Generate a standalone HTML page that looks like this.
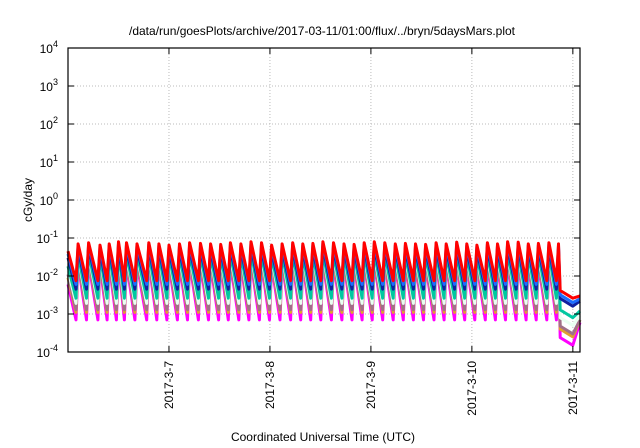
<!DOCTYPE html>
<html><head><meta charset="utf-8"><style>
html,body{margin:0;padding:0;background:#fff;}
svg{display:block;font-family:"Liberation Sans",sans-serif;}
</style></head><body>
<svg id="chart" width="640" height="448" viewBox="0 0 640 448" xmlns="http://www.w3.org/2000/svg">
<text x="322" y="35" font-size="12" text-anchor="middle">/data/run/goesPlots/archive/2017-03-11/01:00/flux/../bryn/5daysMars.plot</text>
<g id="grid"></g>
<g id="series"></g>
<g id="axes"></g>
<text transform="translate(32,200) rotate(-90)" font-size="12" text-anchor="middle">cGy/day</text>
<text x="323" y="441" font-size="12" text-anchor="middle">Coordinated Universal Time (UTC)</text>
</svg>
<script>
// ---- data ----
const xTickLabels = ["2017-3-7","2017-3-8","2017-3-9","2017-3-10","2017-3-11"];
const xTickHours = [24,48,72,96,120];
const yTickExps = [-4,-3,-2,-1,0,1,2,3,4];
const peakHours = [2.4,4.9,7.6,9.8,12.0,13.9,16.4,19.2,21.6,24.0,26.5,28.9,31.5,33.9,36.3,38.6,41.1,43.5,46.0,48.4,50.9,53.4,55.8,58.2,60.6,63.1,65.6,68.0,70.4,72.8,75.3,77.8,80.2,82.6,85.0,87.5,89.9,92.4,94.8,97.2,99.7,102.1,104.5,107.0,109.4,111.8,114.3,116.6];
const redPeak = [0.07,0.075,0.065,0.07,0.08,0.075,0.07,0.075,0.07,0.065,0.07,0.075,0.072,0.07,0.068,0.075,0.07,0.08,0.075,0.065,0.07,0.075,0.07,0.072,0.08,0.075,0.07,0.068,0.075,0.08,0.075,0.07,0.072,0.07,0.068,0.075,0.07,0.078,0.07,0.065,0.075,0.07,0.08,0.078,0.07,0.072,0.075,0.07];
const seriesNames = ["red","blue","navy","teal","white","gray","orange","magenta"];
const seriesColors = ["#ff0000","#1e6cff","#1020a0","#00c8a0","#e8fff0","#a07088","#e0a030","#ff00ff"];
const seriesPeakFactor = [1,0.9,0.75,0.55,0.48,0.4,0.36,0.3];
const seriesTrough = [0.0075,0.006,0.0045,0.0026,0.0019,0.0013,0.0011,0.0007];
const seriesStart = [0.045,0.038,0.03,0.018,0.014,0.011,0.009,0.006];
const seriesEndLow = [0.0026,0.002,0.0016,0.0008,0.0005,0.0003,0.00025,0.00015];
const seriesEndFinal = [0.003,0.0025,0.0022,0.0012,0.0009,0.0007,0.0007,0.0006];
const endHours = [117.0,120.0,121.7];
const riseHours = 0.5;
// ---- axes ----
const X0=68,X1=580,Y0=48,Y1=352,H0=0,H1=121.7;
const xs=h=>X0+(h-H0)/(H1-H0)*(X1-X0);
const ys=v=>Y1-(Math.log10(v)+4)/8*(Y1-Y0);
const NS="http://www.w3.org/2000/svg";
function mk(tag,attrs,parent){const e=document.createElementNS(NS,tag);for(const k in attrs)e.setAttribute(k,attrs[k]);parent.appendChild(e);return e;}
const grid=document.getElementById('grid'),axes=document.getElementById('axes'),ser=document.getElementById('series');
yTickExps.forEach((e,i)=>{
  const y=ys(Math.pow(10,e));
  if(e>-4&&e<4){const g=mk('line',{x1:X0,x2:X1,y1:y,y2:y,stroke:'#bbb','stroke-dasharray':'1,2','stroke-width':1},grid);
  
  }
  const t1=mk('line',{x1:X0,x2:X0+6,y1:y,y2:y,stroke:'#000'},axes);
  
  
  const t2=mk('line',{x1:X1-6,x2:X1,y1:y,y2:y,stroke:'#000'},axes);
  
  
  const tx=mk('text',{x:X0-10,y:y+5,'font-size':12,'text-anchor':'end'},axes);
  
  
  tx.textContent='10';
  const sp=mk('tspan',{dy:-6,'font-size':9},tx);sp.textContent=String(e);
});
xTickHours.forEach((h,i)=>{
  const x=xs(h);
  const g=mk('line',{x1:x,x2:x,y1:Y0,y2:Y1,stroke:'#bbb','stroke-dasharray':'1,2'},grid);
  
  
  const t=mk('line',{x1:x,x2:x,y1:Y1-6,y2:Y1,stroke:'#000'},axes);
  
  
  const t2=mk('line',{x1:x,x2:x,y1:Y0,y2:Y0+6,stroke:'#000'},axes);
  
  
  const tx=mk('text',{transform:`translate(${x+4},${Y1+9}) rotate(-90)`,'font-size':12,'text-anchor':'end'},axes);
  
  
  tx.textContent=xTickLabels[i];
});
const frame=mk('rect',{x:X0,y:Y0,width:X1-X0,height:Y1-Y0,fill:'none',stroke:'#000','stroke-width':1.2},axes);


// ---- series ----
for(let s=seriesNames.length-1;s>=0;s--){
  const pts=[[0,seriesStart[s]]];
  peakHours.forEach((h,i)=>{
    const pk=redPeak[i]*seriesPeakFactor[s];
    pts.push([h-riseHours,seriesTrough[s]]);
    pts.push([h,pk]);
  });
  pts.push([endHours[0],seriesEndLow[s]*1.6]);
  pts.push([endHours[1],seriesEndLow[s]]);
  pts.push([endHours[2],seriesEndFinal[s]]);
  const p=mk('polyline',{points:pts.map(q=>xs(q[0]).toFixed(1)+','+ys(q[1]).toFixed(1)).join(' '),fill:'none',stroke:seriesColors[s],'stroke-width':3,'stroke-linejoin':'round'},ser);
  
  
}
</script>
</body></html>
